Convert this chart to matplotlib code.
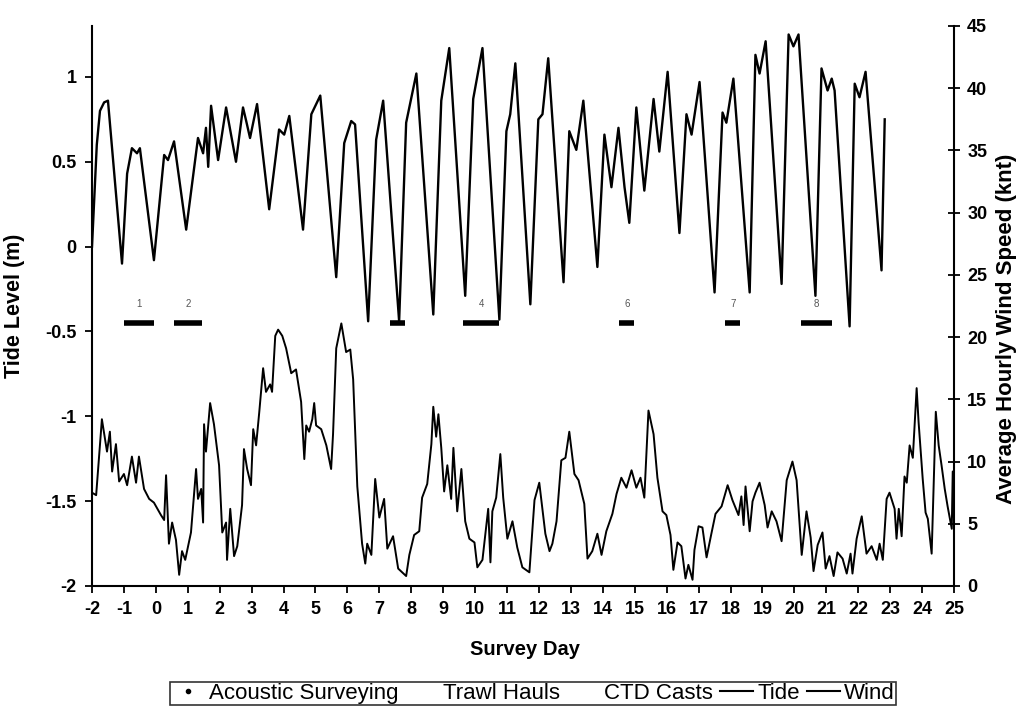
import numpy as np
import matplotlib
matplotlib.use('Agg')
import matplotlib.pyplot as plt
from matplotlib.lines import Line2D

plt.rcParams['font.family'] = ['Liberation Sans', 'DejaVu Sans']
plt.rcParams['axes.unicode_minus'] = False

# tide level (m) vs survey day
tide_day = [-2.0, -1.85, -1.75, -1.62, -1.5, -1.06, -0.9, -0.75, -0.59, -0.5, -0.06,
            0.26, 0.38, 0.57, 0.95, 1.32, 1.48, 1.57, 1.64, 1.73, 1.95, 2.2, 2.51,
            2.73, 2.83, 2.95, 3.17, 3.55, 3.86, 4.02, 4.18, 4.61, 4.87, 5.15, 5.65,
            5.9, 6.12, 6.24, 6.65, 6.9, 7.12, 7.62, 7.84, 8.16, 8.69, 8.94, 9.19,
            9.69, 9.94, 10.23, 10.76, 10.98, 11.1, 11.26, 11.73, 11.98, 12.11, 12.29,
            12.77, 12.95, 13.17, 13.39, 13.83, 14.05, 14.27, 14.49, 14.68, 14.83,
            15.05, 15.3, 15.59, 15.77, 16.03, 16.4, 16.62, 16.78, 17.03, 17.5, 17.75,
            17.87, 18.09, 18.6, 18.78, 18.91, 19.1, 19.6, 19.82, 19.97, 20.13, 20.66,
            20.85, 21.04, 21.17, 21.26, 21.73, 21.89, 22.04, 22.23, 22.73, 22.83]
tide_lvl = [0.0, 0.6, 0.8, 0.85, 0.86, -0.1, 0.43, 0.58, 0.55, 0.58, -0.08,
            0.54, 0.51, 0.62, 0.1, 0.64, 0.55, 0.7, 0.47, 0.83, 0.51, 0.82, 0.5,
            0.82, 0.74, 0.64, 0.84, 0.22, 0.69, 0.66, 0.77, 0.1, 0.78, 0.89, -0.18,
            0.61, 0.74, 0.72, -0.44, 0.63, 0.86, -0.44, 0.73, 1.02, -0.4, 0.86, 1.17,
            -0.29, 0.87, 1.17, -0.43, 0.68, 0.78, 1.08, -0.34, 0.75, 0.78, 1.11,
            -0.21, 0.68, 0.57, 0.86, -0.12, 0.66, 0.35, 0.7, 0.35, 0.14,
            0.82, 0.33, 0.87, 0.56, 1.03, 0.08, 0.78, 0.66, 0.97, -0.27, 0.79,
            0.73, 0.99, -0.27, 1.13, 1.02, 1.21, -0.22, 1.25, 1.18, 1.25, -0.29,
            1.05, 0.92, 0.99, 0.92, -0.47, 0.96, 0.88, 1.03, -0.14, 0.75]

# average hourly wind speed (knt)
wind_day = [-2.0, -1.87, -1.69, -1.53, -1.44, -1.37, -1.25, -1.15, -1.0, -0.9, -0.75,
            -0.62, -0.53, -0.37, -0.21, -0.06, 0.16, 0.26, 0.32, 0.41, 0.51, 0.63,
            0.73, 0.82, 0.92, 1.1, 1.26, 1.32, 1.42, 1.48, 1.51, 1.57, 1.7, 1.82,
            1.98, 2.08, 2.2, 2.23, 2.33, 2.45, 2.55, 2.7, 2.76, 2.86, 2.98, 3.05,
            3.14, 3.24, 3.36, 3.45, 3.58, 3.64, 3.74, 3.83, 3.96, 4.08, 4.24, 4.39,
            4.55, 4.65, 4.71, 4.8, 4.9, 4.96, 5.02, 5.18, 5.34, 5.49, 5.55, 5.65,
            5.81, 5.96, 6.09, 6.18, 6.31, 6.46, 6.56, 6.62, 6.75, 6.87, 7.0, 7.15,
            7.25, 7.43, 7.59, 7.84, 7.94, 8.09, 8.25, 8.34, 8.5, 8.63, 8.69, 8.78,
            8.85, 8.94, 9.03, 9.13, 9.25, 9.32, 9.44, 9.57, 9.69, 9.82, 9.98, 10.07,
            10.23, 10.35, 10.41, 10.48, 10.54, 10.66, 10.79, 10.88, 11.01, 11.17,
            11.32, 11.48, 11.7, 11.86, 12.01, 12.2, 12.33, 12.42, 12.55, 12.7, 12.83,
            12.95, 13.11, 13.24, 13.42, 13.52, 13.67, 13.83, 13.96, 14.11, 14.3,
            14.43, 14.58, 14.74, 14.9, 15.05, 15.18, 15.3, 15.43, 15.59, 15.71,
            15.87, 15.99, 16.12, 16.21, 16.34, 16.46, 16.59, 16.68, 16.81, 16.87,
            17.0, 17.12, 17.25, 17.4, 17.53, 17.72, 17.91, 18.06, 18.25, 18.34,
            18.41, 18.47, 18.6, 18.69, 18.78, 18.91, 19.07, 19.16, 19.29, 19.44,
            19.6, 19.76, 19.94, 20.07, 20.23, 20.38, 20.51, 20.6, 20.73, 20.88,
            20.98, 21.1, 21.23, 21.35, 21.51, 21.64, 21.76, 21.82, 21.95, 22.11,
            22.26, 22.42, 22.58, 22.67, 22.77, 22.89, 22.98, 23.14, 23.2, 23.27,
            23.36, 23.45, 23.52, 23.61, 23.71, 23.83, 23.89, 24.02, 24.11, 24.18,
            24.3, 24.43, 24.52, 24.61, 24.71, 24.8, 24.93, 24.96, 25.0]
wind_knt = [7.5, 7.3, 13.4, 10.8, 12.4, 9.2, 11.4, 8.4, 9.0, 8.1, 10.4,
            8.3, 10.4, 7.8, 7.0, 6.7, 5.7, 5.3, 8.9, 3.4, 5.1, 3.7,
            0.9, 2.8, 2.1, 4.3, 9.4, 7.0, 7.8, 5.1, 13.0, 10.8, 14.7, 13.0,
            9.7, 4.3, 5.1, 2.1, 6.2, 2.4, 3.2, 6.5, 11.0, 9.4, 8.1, 12.6,
            11.3, 14.0, 17.5, 15.6, 16.2, 15.6, 20.1, 20.6, 20.1, 19.1, 17.1, 17.4,
            14.8, 10.2, 12.9, 12.4, 13.4, 14.7, 12.9, 12.6, 11.3, 9.4, 12.2, 19.1,
            21.1, 18.8, 19.0, 16.6, 8.0, 3.4, 1.8, 3.4, 2.5, 8.6, 5.5, 7.0,
            3.0, 4.0, 1.4, 0.8, 2.5, 4.1, 4.4, 7.1, 8.2, 11.4, 14.4, 12.0,
            13.8, 11.1, 7.6, 9.7, 7.0, 11.1, 6.0, 9.4, 5.2, 3.8, 3.5, 1.5,
            2.1, 4.8, 6.2, 1.9, 6.0, 7.1, 10.6, 7.1, 3.8, 5.2,
            3.1, 1.5, 1.1, 6.9, 8.3, 4.2, 2.8, 3.4, 5.2, 10.1, 10.3,
            12.4, 9.0, 8.5, 6.6, 2.2, 2.8, 4.2, 2.5, 4.4, 5.8,
            7.4, 8.7, 7.9, 9.3, 7.9, 8.7, 7.1, 14.1, 12.2, 8.7,
            6.0, 5.7, 4.1, 1.3, 3.5, 3.2, 0.6, 1.7, 0.5, 2.9,
            4.8, 4.7, 2.3, 4.2, 5.8, 6.4, 8.1, 6.9, 5.7, 7.2,
            4.9, 8.0, 4.4, 6.8, 7.5, 8.3, 6.5, 4.7, 6.0, 5.2,
            3.6, 8.5, 10.0, 8.5, 2.5, 6.0, 3.9, 1.2, 3.3, 4.3,
            1.4, 2.4, 0.8, 2.7, 2.2, 1.0, 2.6, 1.0, 3.8, 5.6,
            2.6, 3.2, 2.1, 3.4, 2.1, 7.0, 7.5, 6.2, 3.8, 6.2,
            4.0, 8.8, 8.3, 11.3, 10.3, 15.9, 13.2, 8.6, 5.9, 5.4,
            2.6, 14.0, 11.3, 9.7, 7.8, 6.4, 4.6, 9.2, 5.3]

# acoustic survey periods
survey_start = [-1.0, 0.57, 7.34, 9.63, 14.52, 17.84, 20.22]
survey_end = [-0.05, 1.45, 7.81, 10.76, 14.99, 18.31, 21.17]
survey_lab = ['1', '2', '', '4', '6', '7', '8']
survey_lvl = -0.45

fig = plt.figure(figsize=(10.23, 7.09), dpi=100)
ax = fig.add_axes([92/1023, 123/709, 862/1023, 560/709])
ax2 = ax.twinx()

ax.plot(tide_day, tide_lvl, color='black', lw=1.7)
ax2.plot(wind_day, wind_knt, color='black', lw=1.4)

ax.hlines([survey_lvl]*len(survey_start), survey_start, survey_end,
          color='black', lw=4)
for s, e, t in zip(survey_start, survey_end, survey_lab):
    ax.text((s+e)/2, survey_lvl + 0.08, t, fontsize=7, color='#555555',
            ha='center', va='bottom')

ax.set_xlim(-2, 25)
ax.set_ylim(-2, 1.3)
ax2.set_ylim(0, 45)
ax.set_xticks(range(-2, 26))
ax.set_yticks([-2, -1.5, -1, -0.5, 0, 0.5, 1])
ax.set_yticklabels(['-2', '-1.5', '-1', '-0.5', '0', '0.5', '1'])
ax2.set_yticks(range(0, 46, 5))

for s in ['top', 'right']:
    ax.spines[s].set_visible(False)
for s in ['top', 'left', 'bottom']:
    ax2.spines[s].set_visible(False)
for a in (ax, ax2):
    for sp in a.spines.values():
        sp.set_linewidth(1.5)

ax.tick_params(axis='both', direction='out', length=5, width=1.3,
               labelsize=13, pad=6)
ax2.tick_params(axis='y', direction='inout', length=9, width=1.3,
                labelsize=13, pad=5)
for lab in ax.get_xticklabels() + ax.get_yticklabels() + ax2.get_yticklabels():
    lab.set_fontweight('bold')

ax.set_xlabel('Survey Day', fontsize=14.5, fontweight='bold')
ax.xaxis.set_label_coords(0.502, -0.096)
ax.set_ylabel('Tide Level (m)', fontsize=15.5, fontweight='bold')
ax.yaxis.set_label_coords(-0.078, 0.5)
ax2.set_ylabel('Average Hourly Wind Speed (knt)', fontsize=16, fontweight='bold')
ax2.yaxis.set_label_coords(1.049, 0.46)

handles = [Line2D([], [], color='black', marker='.', ls='none', markersize=6),
           Line2D([], [], ls='none'),
           Line2D([], [], ls='none'),
           Line2D([], [], color='black', lw=1.5),
           Line2D([], [], color='black', lw=1.5)]
labels = ['Acoustic Surveying', 'Trawl Hauls', 'CTD Casts', 'Tide', 'Wind']
leg = fig.legend(handles, labels, loc='lower center',
                 bbox_to_anchor=(533/1023, 4/709), ncol=5, fontsize=16,
                 frameon=True, fancybox=False, edgecolor='black',
                 handlelength=1.5, handletextpad=0.2, columnspacing=0.3,
                 borderpad=0.05, borderaxespad=0)
leg.get_frame().set_linewidth(1.2)

fig.savefig('out.png', dpi=100)
